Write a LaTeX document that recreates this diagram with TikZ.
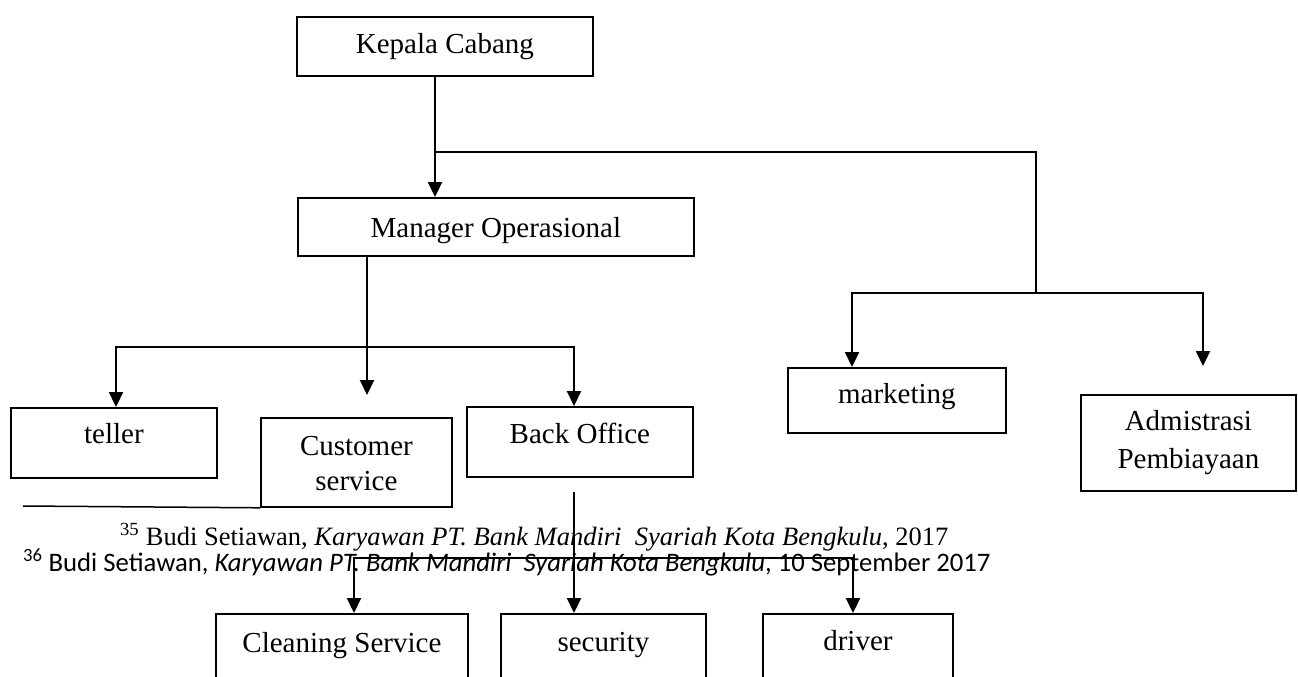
\documentclass[tikz,border=0pt]{standalone}
\usepackage{fontspec}
\setmainfont{Liberation Serif}
\newfontfamily\calib{Carlito}
\usetikzlibrary{arrows.meta}
\begin{document}
\begin{tikzpicture}[x=1pt,y=-1pt,
  orgbox/.style={draw, line width=1.8pt, inner sep=0pt, anchor=north west},
  lbl/.style={font=\fontsize{29}{35}\selectfont, anchor=base, inner sep=0pt},
  conn/.style={line width=2.2pt},
  arr/.style={line width=2.2pt, -{Triangle[length=15pt,width=14pt]}},
  thinline/.style={line width=1.4pt},
  fnA/.style={font=\fontsize{26.5}{30}\selectfont, anchor=base west, inner sep=0pt},
  fnB/.style={font=\calib\fontsize{26.7}{30}\selectfont, anchor=base west, inner sep=0pt}]
\useasboundingbox (0,0) rectangle (1298,677);

% boxes
\node[orgbox, minimum width=296pt, minimum height=59pt] (kc) at (296,16) {};
\node[orgbox, minimum width=396pt, minimum height=58pt] (mo) at (297,197) {};
\node[orgbox, minimum width=218pt, minimum height=65pt] (mk) at (787,367) {};
\node[orgbox, minimum width=215pt, minimum height=96pt] (ad) at (1080,394) {};
\node[orgbox, minimum width=206pt, minimum height=70pt] (te) at (10,407) {};
\node[orgbox, minimum width=191pt, minimum height=89pt] (cs) at (260,417) {};
\node[orgbox, minimum width=226pt, minimum height=70pt] (bo) at (466,406) {};
\node[orgbox, minimum width=252pt, minimum height=90pt] (cl) at (215,613) {};
\node[orgbox, minimum width=205pt, minimum height=90pt] (se) at (500,613) {};
\node[orgbox, minimum width=190pt, minimum height=90pt] (dr) at (762,613) {};

% labels
\node[lbl] (kct) at ([yshift=-37pt]kc.north) {Kepala Cabang};
\node[lbl] (mot) at ([yshift=-40pt]mo.north) {Manager Operasional};
\node[lbl] (mkt) at ([yshift=-36pt]mk.north) {marketing};
\node[lbl] (adt1) at ([yshift=-36pt]ad.north) {Admistrasi};
\node[lbl] (adt2) at ([yshift=-74pt]ad.north) {Pembiayaan};
\node[lbl] (tet) at ([yshift=-36pt]te.north) {teller};
\node[lbl] (cst1) at ([yshift=-38pt]cs.north) {Customer};
\node[lbl] (cst2) at ([yshift=-73pt]cs.north) {service};
\node[lbl] (bot) at ([yshift=-37pt]bo.north) {Back Office};
\node[lbl] (clt) at ([yshift=-39pt]cl.north) {Cleaning Service};
\node[lbl] (set) at ([yshift=-38pt]se.north) {security};
\node[lbl] (drt) at ([yshift=-37pt]dr.north) {driver};

% junction coordinates
\coordinate (j1) at (435,152);
\coordinate (j3) at (1036,293);
\coordinate (j4) at (852,293);
\coordinate (j5) at (1203,293);
\coordinate (adtip) at (1203,366);
\coordinate (m1) at (367,347);
\coordinate (mtip) at (367,395);
\coordinate (tx) at (116,347);
\coordinate (bx) at (574,347);
\coordinate (b1) at (574,492);
\coordinate (b2) at (574,558);
\coordinate (c1) at (354,558);
\coordinate (c2) at (853,558);
\coordinate (rulestart) at (23,506);

% connectors
\draw[arr] (j1 |- kc.south) -- (j1 |- mo.north);
\draw[thinline] (j1) -| (j3);
\draw[arr] (j3) -| (mk.north -| j4);
\draw[arr] (j3) -| (adtip);

\draw[arr] (mo.south -| m1) -- (mtip);
\draw[arr] (m1) -| (te.north -| tx);
\draw[arr] (m1) -| (bo.north -| bx);

\draw[arr] (b1) -- (se.north -| b1);
\draw[arr] (b2) -| (cl.north -| c1);
\draw[arr] (b2) -| (dr.north -| c2);

% footnote rule and footnotes
\draw[line width=1.5pt] (rulestart) -- (cs.south west);
\node[fnA] (f1) at (120,545) {\textsuperscript{35} Budi Setiawan, \textit{Karyawan PT. Bank Mandiri\ \ Syariah Kota Bengkulu}, 2017};
\node[fnB] (f2) at (23,571) {\textsuperscript{36} Budi Setiawan, \textit{Karyawan PT. Bank Mandiri\ \ Syariah Kota Bengkulu}, 10 September 2017};
\end{tikzpicture}
\end{document}
